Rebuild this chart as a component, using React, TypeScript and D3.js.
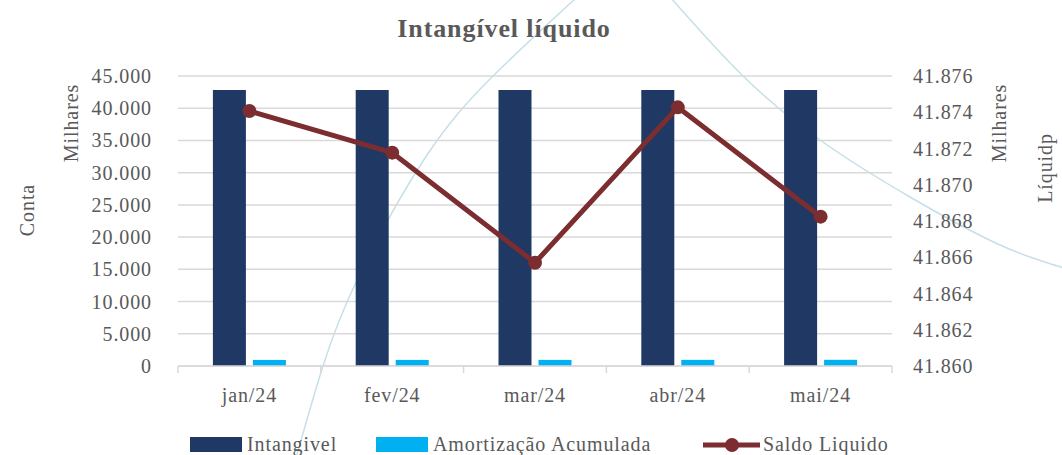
import React from "react";
import * as d3 from "d3";

const categories = ["jan/24", "fev/24", "mar/24", "abr/24", "mai/24"];
const intangivel = [42827, 42829, 42826, 42830, 42829];
const amortizacao = [940, 945, 950, 955, 960];
const saldoLiquido = [41874.07, 41871.77, 41865.7, 41874.27, 41868.24];
const leftTicks = [0, 5000, 10000, 15000, 20000, 25000, 30000, 35000, 40000, 45000];
const rightTicks = [41860, 41862, 41864, 41866, 41868, 41870, 41872, 41874, 41876];

const W = 1062, H = 455;
const M = { left: 178, right: 892, top: 76, bottom: 366 };
const FONT = "'Liberation Serif', 'DejaVu Serif', serif";
const TXT = "#595959";
const LS = 0.9;

const ptBR = d3.formatLocale({ decimal: ",", thousands: ".", grouping: [3], currency: ["R$", ""] });
const fmt = ptBR.format(",.0f");

const arc1: [number, number][] = [[296, 458], [323, 366], [358, 278], [425, 158], [493, 76], [576, -2]];
const arc2: [number, number][] = [[671, -2], [743, 76], [820, 140], [910, 197], [1000, 245], [1064, 268]];

export default function App() {
  const x = d3.scaleBand<string>().domain(categories).range([M.left, M.right]);
  const yL = d3.scaleLinear().domain([0, 45000]).range([M.bottom, M.top]);
  const yR = d3.scaleLinear().domain([41860, 41876]).range([M.bottom, M.top]);
  const barW = 33, gap = 7;
  const line = d3.line<number>().x((_, i) => x(categories[i])! + x.bandwidth() / 2).y(d => yR(d));
  const arcLine = d3.line().curve(d3.curveNatural);
  const boundaries = [...categories.map(c => x(c)!), M.right];

  return (
    <svg width={W} height={H} style={{ position: "absolute", left: 0, top: 0, background: "#fff" }} fontFamily={FONT}>
      <path d={arcLine(arc1)!} fill="none" stroke="#c6dfe9" strokeWidth={1.5} />
      <path d={arcLine(arc2)!} fill="none" stroke="#c6dfe9" strokeWidth={1.5} />

      <text x={504} y={37} textAnchor="middle" fontSize={26} fontWeight="bold" fill={TXT} letterSpacing={0.9}>Intangível líquido</text>

      {leftTicks.map(t => (
        <line key={"g" + t} x1={M.left} x2={M.right} y1={yL(t)} y2={yL(t)} stroke="#d9d9d9" strokeWidth={1.5} />
      ))}
      {leftTicks.map(t => (
        <text key={"l" + t} x={152} y={yL(t)} dy="0.35em" textAnchor="end" fontSize={20} fill={TXT} letterSpacing={LS}>{fmt(t)}</text>
      ))}
      {rightTicks.map(t => (
        <text key={"r" + t} x={913} y={yR(t)} dy="0.35em" textAnchor="start" fontSize={20} fill={TXT} letterSpacing={LS}>{fmt(t)}</text>
      ))}

      {categories.map((c, i) => {
        const cx = x(c)! + x.bandwidth() / 2;
        return (
          <g key={c}>
            <rect x={cx - gap / 2 - barW} y={yL(intangivel[i])} width={barW} height={yL(0) - yL(intangivel[i])} fill="#203864" />
            <rect x={cx + gap / 2} y={yL(amortizacao[i])} width={barW} height={yL(0) - yL(amortizacao[i])} fill="#00b0f0" />
            <text x={cx} y={395} dy="0.35em" textAnchor="middle" fontSize={20} fill={TXT} letterSpacing={LS}>{c}</text>
          </g>
        );
      })}

      <line x1={M.left} x2={M.right} y1={M.bottom} y2={M.bottom} stroke="#d9d9d9" strokeWidth={1.5} />
      {boundaries.map((b, i) => (
        <line key={"t" + i} x1={b} x2={b} y1={M.bottom} y2={M.bottom + 7} stroke="#d9d9d9" strokeWidth={1.5} />
      ))}

      <path d={line(saldoLiquido)!} fill="none" stroke="#7b2d30" strokeWidth={5} strokeLinejoin="round" />
      {saldoLiquido.map((v, i) => (
        <circle key={"m" + i} cx={x(categories[i])! + x.bandwidth() / 2} cy={yR(v)} r={7} fill="#7b2d30" />
      ))}

      <text transform={`translate(78,123) rotate(-90)`} textAnchor="middle" fontSize={20} fill={TXT} letterSpacing={LS}>Milhares</text>
      <text transform={`translate(34,210) rotate(-90)`} textAnchor="middle" fontSize={20} fill={TXT} letterSpacing={LS}>Conta</text>
      <text transform={`translate(1006,123) rotate(-90)`} textAnchor="middle" fontSize={20} fill={TXT} letterSpacing={LS}>Milhares</text>
      <text transform={`translate(1052,168) rotate(-90)`} textAnchor="middle" fontSize={20} fill={TXT} letterSpacing={LS}>Líquidp</text>

      <rect x={190} y={437} width={52} height={15} fill="#203864" />
      <text x={247} y={444} dy="0.35em" fontSize={20} fill={TXT} letterSpacing={LS}>Intangivel</text>
      <rect x={376} y={437} width={52} height={15} fill="#00b0f0" />
      <text x={433} y={444} dy="0.35em" fontSize={20} fill={TXT} letterSpacing={LS}>Amortização Acumulada</text>
      <line x1={703} x2={760} y1={445} y2={445} stroke="#7b2d30" strokeWidth={5} />
      <circle cx={732} cy={445} r={7} fill="#7b2d30" />
      <text x={763} y={444} dy="0.35em" fontSize={20} fill={TXT} letterSpacing={LS}>Saldo Liquido</text>
    </svg>
  );
}
